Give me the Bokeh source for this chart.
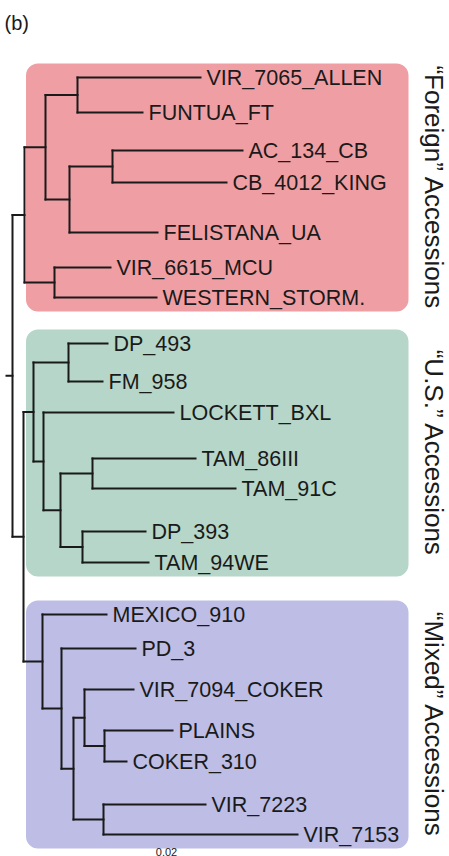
import math
from bokeh.plotting import figure
from bokeh.models import ColumnDataSource, Range1d, BoxAnnotation, Label
from bokeh.core.properties import value
from bokeh.embed import file_html
from bokeh.resources import INLINE

# ---------------- data ----------------
# tree nodes: name, parent, cumulative distance from root
node_names = ["root", "A", "A1", "A1a", "VIR_7065_ALLEN", "FUNTUA_FT", "A1b", "A1b1",
              "AC_134_CB", "CB_4012_KING", "FELISTANA_UA", "A2", "VIR_6615_MCU",
              "WESTERN_STORM.", "B", "US", "U1", "DP_493", "FM_958", "U2", "LOCKETT_BXL",
              "U3", "U3a", "TAM_86III", "TAM_91C", "U3b", "DP_393", "TAM_94WE", "M",
              "MEXICO_910", "M1", "PD_3", "M2", "M3", "VIR_7094_COKER", "M4", "PLAINS",
              "COKER_310", "M5", "VIR_7223", "VIR_7153"]
node_parents = [None, "root", "A", "A1", "A1a", "A1a", "A1", "A1b", "A1b1", "A1b1", "A1b",
                "A", "A2", "A2", "root", "B", "US", "U1", "U1", "US", "U2", "U2", "U3",
                "U3a", "U3a", "U3", "U3b", "U3b", "B", "M", "M", "M1", "M1", "M2", "M3",
                "M3", "M4", "M4", "M2", "M5", "M5"]
node_depth = [0.0, 0.0048, 0.0132, 0.026, 0.0752, 0.052, 0.0228, 0.04, 0.092, 0.0856,
              0.058, 0.0168, 0.0392, 0.0576, 0.0044, 0.0084, 0.0224, 0.038, 0.036,
              0.0124, 0.0644, 0.0192, 0.032, 0.0732, 0.0892, 0.028, 0.0532, 0.0544,
              0.012, 0.0376, 0.0196, 0.0492, 0.0244, 0.0288, 0.0484, 0.0368, 0.064,
              0.0456, 0.0364, 0.0772, 0.114]
root_branch = 0.0024

# leaves, top to bottom, with their row positions
leaf_names = ["VIR_7065_ALLEN", "FUNTUA_FT", "AC_134_CB", "CB_4012_KING", "FELISTANA_UA",
              "VIR_6615_MCU", "WESTERN_STORM.", "DP_493", "FM_958", "LOCKETT_BXL",
              "TAM_86III", "TAM_91C", "DP_393", "TAM_94WE", "MEXICO_910", "PD_3",
              "VIR_7094_COKER", "PLAINS", "COKER_310", "VIR_7223", "VIR_7153"]
leaf_rows = [77, 112, 150, 182, 232, 267, 297, 343, 381, 412, 458, 488, 531, 562,
             614, 648, 689, 730, 761, 804, 834]

group_labels = ["\u201cForeign\u201d Accessions", "\u201cU.S.\u201d Accessions",
                "\u201cMixed\u201d Accessions"]
group_first = ["VIR_7065_ALLEN", "DP_493", "MEXICO_910"]
group_last = ["WESTERN_STORM.", "TAM_94WE", "VIR_7153"]
group_colors = ["#EF9FA4", "#B5D6C8", "#BDBDE5"]

scale_label = "0.02"

# ---------------- layout computation ----------------
depth = dict(zip(node_names, node_depth))
children = {n: [] for n in node_names}
for n, pa in zip(node_names, node_parents):
    if pa is not None:
        children[pa].append(n)
ypos = dict(zip(leaf_names, leaf_rows))


def get_y(n):
    if n in ypos:
        return ypos[n]
    ys = [get_y(c) for c in children[n]]
    ypos[n] = sum(ys) / len(ys)
    return ypos[n]


get_y("root")

x0, y0, x1, y1 = [], [], [], []
for n in node_names:
    ch = children[n]
    if ch:
        cy = [ypos[c] for c in ch]
        x0.append(depth[n]); x1.append(depth[n]); y0.append(min(cy)); y1.append(max(cy))
        for c in ch:
            x0.append(depth[n]); x1.append(depth[c]); y0.append(ypos[c]); y1.append(ypos[c])
# root stub
x0.append(-root_branch); x1.append(0.0); y0.append(ypos["root"]); y1.append(ypos["root"])

seg = ColumnDataSource(dict(x0=x0, y0=y0, x1=x1, y1=y1))
lab = ColumnDataSource(dict(x=[depth[n] for n in leaf_names], y=leaf_rows, t=leaf_names))

# ---------------- figure ----------------
FONT = "Liberation Sans"
p = figure(width=449, height=856, output_backend="svg", toolbar_location=None,
           x_range=Range1d(-0.0048, 0.1748), y_range=Range1d(856, 0),
           min_border=0, outline_line_color=None, background_fill_color="white")
p.axis.visible = False
p.grid.visible = False

for lbl, f, l, col in zip(group_labels, group_first, group_last, group_colors):
    top = ypos[f] - 14
    bot = ypos[l] + 14
    box = BoxAnnotation(left=0.0054, right=0.1584, top=top, bottom=bot,
                        fill_color=col, fill_alpha=1.0, line_color=None,
                        border_radius=12, level="underlay")
    p.add_layout(box)
    p.add_layout(Label(x=0.1686, y=(top + bot) / 2, text=lbl, angle=-math.pi / 2,
                       text_align="center", text_baseline="middle",
                       text_font=FONT, text_font_size="26px",
                       text_color="#1a1a1a"))

p.segment("x0", "y0", "x1", "y1", source=seg, line_color="#1a1a1a", line_width=2,
          line_cap="square")
p.text("x", "y", text="t", source=lab, x_offset=6, text_baseline="middle",
       text_align="left", text_font=value(FONT), text_font_size="21.5px",
       text_color="#1a1a1a")

p.add_layout(Label(x=-0.0032, y=22, text="(b)", text_align="left", text_baseline="middle",
                   text_font=FONT, text_font_size="20px", text_color="#1a1a1a"))
p.add_layout(Label(x=0.0616, y=847, text=scale_label, text_align="center",
                   text_baseline="top", text_font=FONT,
                   text_font_size="11px", text_color="#1a1a1a"))

open("out.html", "w").write(file_html(p, INLINE))
